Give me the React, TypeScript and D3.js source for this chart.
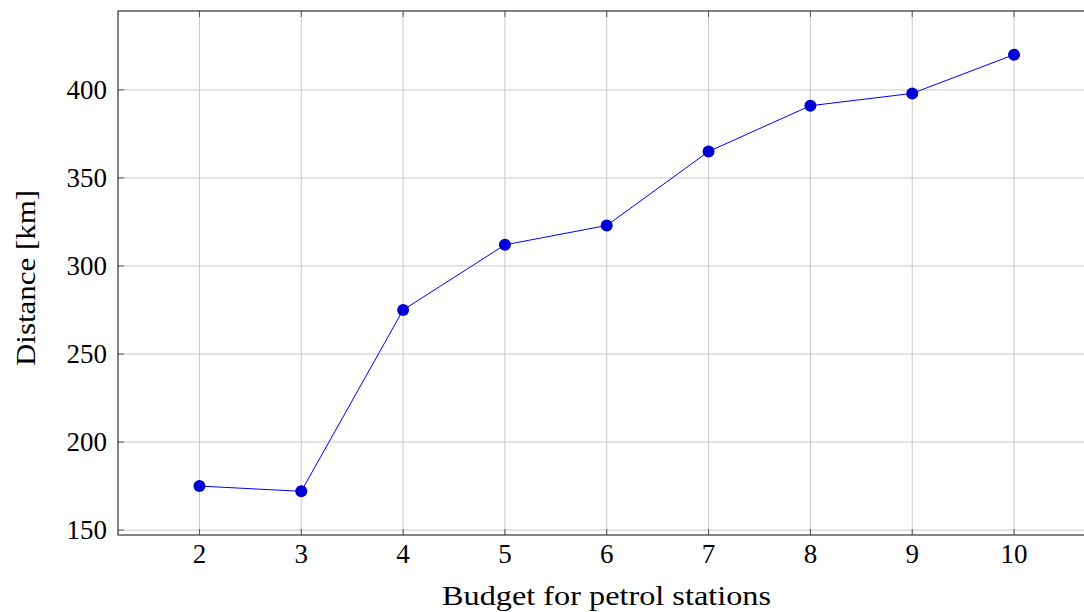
import * as d3 from "d3";

const budgets = [2, 3, 4, 5, 6, 7, 8, 9, 10];
const distances = [175, 172, 275, 312, 323, 365, 391, 398, 420];
const yTicks = [150, 200, 250, 300, 350, 400];

const W = 1084;
const H = 612;
const FONT = "'Liberation Serif', 'DejaVu Serif', serif";

export default function App() {
  const left = 118;
  const top = 11;
  const bottom = 535;
  const x = d3.scaleLinear().domain([1.2, 10.8]).range([left, left + 977.5]);
  const y = d3.scaleLinear().domain([147.2, 444.8]).range([bottom, top]);
  const right = x(10.8);

  const line = d3
    .line<number>()
    .x((_, i) => x(budgets[i]))
    .y((d) => y(d));

  return (
    <svg
      width={W}
      height={H}
      style={{ position: "absolute", left: 0, top: 0, background: "white" }}
      fontFamily={FONT}
    >
      {/* grid */}
      <g stroke="#c8c8c8" strokeWidth={1}>
        {budgets.map((b) => (
          <line key={"gx" + b} x1={x(b)} x2={x(b)} y1={top} y2={bottom} />
        ))}
        {yTicks.map((t) => (
          <line key={"gy" + t} x1={left} x2={right} y1={y(t)} y2={y(t)} />
        ))}
      </g>
      {/* tick marks */}
      <g stroke="#555" strokeWidth={1}>
        {budgets.map((b) => (
          <g key={"tx" + b}>
            <line x1={x(b)} x2={x(b)} y1={bottom} y2={bottom - 6} />
            <line x1={x(b)} x2={x(b)} y1={top} y2={top + 6} />
          </g>
        ))}
        {yTicks.map((t) => (
          <line key={"ty" + t} x1={left} x2={left + 6} y1={y(t)} y2={y(t)} />
        ))}
      </g>
      {/* axes box */}
      <rect
        x={left}
        y={top}
        width={right - left}
        height={bottom - top}
        fill="none"
        stroke="#333"
        strokeWidth={1.2}
      />
      {/* series */}
      <path d={line(distances) || ""} fill="none" stroke="#0000ff" strokeWidth={1} />
      {distances.map((d, i) => (
        <circle key={"p" + i} cx={x(budgets[i])} cy={y(d)} r={6} fill="#0000d4" />
      ))}
      {/* tick labels */}
      <g fontSize={27} fill="#000">
        {budgets.map((b) => (
          <text key={"lx" + b} x={x(b)} y={563} textAnchor="middle">
            {b}
          </text>
        ))}
        {yTicks.map((t) => (
          <text key={"ly" + t} x={107} y={y(t) + 9} textAnchor="end">
            {t}
          </text>
        ))}
      </g>
      <text
        x={606.5}
        y={605}
        textAnchor="middle"
        fontSize={27}
        textLength={329}
        lengthAdjust="spacingAndGlyphs"
      >
        Budget for petrol stations
      </text>
      <text
        transform={`translate(35,278) rotate(-90)`}
        textAnchor="middle"
        fontSize={27}
        textLength={176}
        lengthAdjust="spacingAndGlyphs"
      >
        Distance [km]
      </text>
    </svg>
  );
}
